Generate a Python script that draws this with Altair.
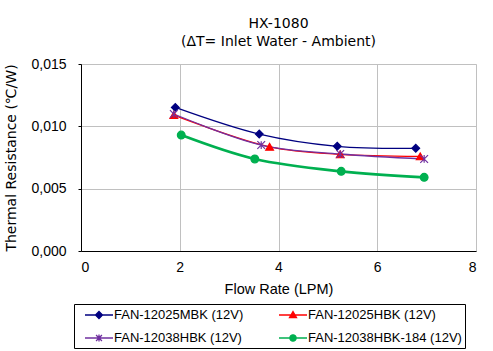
import altair as alt
import pandas as pd

series_names = ["FAN-12025MBK (12V)", "FAN-12025HBK (12V)", "FAN-12038HBK (12V)", "FAN-12038HBK-184 (12V)"]
colors = ["#000080", "#FF0000", "#7030A0", "#00B050"]
line_widths = [1.3, 1.3, 1.3, 2.8]

flow_mbk = [1.91, 3.61, 5.19, 6.78]
res_mbk = [0.01152, 0.00938, 0.00840, 0.00824]
flow_hbk = [1.88, 3.82, 5.25, 6.87]
res_hbk = [0.01090, 0.00836, 0.00775, 0.00759]
flow_38 = [1.88, 3.65, 5.25, 6.95]
res_38 = [0.01099, 0.00850, 0.00778, 0.00738]
flow_184 = [2.03, 3.52, 5.27, 6.95]
res_184 = [0.00930, 0.00738, 0.00639, 0.00591]

rows = []
for name, xs, ys in zip(series_names,
                        [flow_mbk, flow_hbk, flow_38, flow_184],
                        [res_mbk, res_hbk, res_38, res_184]):
    for i, (x, y) in enumerate(zip(xs, ys)):
        rows.append({"series": name, "flow": x, "res": y, "order": i})
df = pd.DataFrame(rows)

# plot marker shapes
marker_paths = [
    "diamond",
    "triangle-up",
    "M-1,-1L1,1M-1,1L1,-1M0,-1L0,1",
    "circle",
]
# legend symbols: line segment + marker (x spans -2..2)
legend_paths = [
    "M-2,0L2,0M0,-0.5L0.5,0L0,0.5L-0.5,0Z",
    "M-2,0L2,0M0,-0.5L0.5,0.38L-0.5,0.38Z",
    "M-2,0L2,0M-0.42,-0.42L0.42,0.42M-0.42,0.42L0.42,-0.42M0,-0.5L0,0.5",
    "M-2,0L2,0M-0.45,0A0.45,0.45,0,1,0,0.45,0A0.45,0.45,0,1,0,-0.45,0Z",
]
# legend is filled column by column, so order entries to read row by row
legend_order = [series_names[0], series_names[2], series_names[1], series_names[3]]

font = "Liberation Sans"
tfont = "DejaVu Sans"

x_enc = alt.X("flow:Q", title="Flow Rate (LPM)",
              scale=alt.Scale(domain=[0, 8], nice=False),
              axis=alt.Axis(values=[0, 2, 4, 6, 8], ticks=False, labelPadding=9,
                            titlePadding=8, gridColor="#C0C0C0", domainColor="black",
                            labelFontSize=14, titleFontSize=14.5, titleFontWeight="normal"))
y_enc = alt.Y("res:Q", title="Thermal Resistance (℃/W)",
              scale=alt.Scale(domain=[0, 0.015], nice=False),
              axis=alt.Axis(values=[0, 0.005, 0.01, 0.015],
                            labelExpr="replace(format(datum.value, '.3f'), '.', ',')",
                            tickSize=3, tickColor="black", labelPadding=12, titlePadding=12,
                            gridColor="#C0C0C0", domainColor="black", titleFont=tfont,
                            labelFontSize=14, titleFontSize=14, titleFontWeight="normal"))

legend_colors = [colors[series_names.index(n)] for n in legend_order]
legend_widths = [line_widths[series_names.index(n)] for n in legend_order]
legend_shapes = [legend_paths[series_names.index(n)] for n in legend_order]
color_scale = alt.Scale(domain=legend_order, range=legend_colors)
width_scale = alt.Scale(domain=legend_order, range=legend_widths)
shape_scale = alt.Scale(domain=legend_order, range=legend_shapes)


def make_legend():
    return alt.Legend(
        title=None, orient="none", legendX=-7, legendY=240,
        columns=2, columnPadding=27, rowPadding=8,
        strokeColor="black", fillColor="white", padding=3,
        labelFontSize=13, labelFont=font, labelOffset=7, symbolOffset=14,
        symbolSize=196, symbolOpacity=1)


layers = []
for name, col, lw in zip(series_names, colors, line_widths):
    layers.append(
        alt.Chart(df).transform_filter(alt.datum.series == name)
        .mark_line(interpolate="catmull-rom", stroke=col, strokeWidth=lw)
        .encode(x=x_enc, y=y_enc, order="order:Q")
    )
for name, col, shp in zip(series_names, colors, marker_paths):
    layers.append(
        alt.Chart(df).transform_filter(alt.datum.series == name)
        .mark_point(filled=True, size=60, strokeWidth=1.2, opacity=1,
                    shape=shp, fill=col, stroke=col)
        .encode(x="flow:Q", y="res:Q")
    )

legend_layer = alt.Chart(df).transform_filter("false").mark_point().encode(
    x="flow:Q", y="res:Q",
    fill=alt.Fill("series:N", scale=color_scale, sort=legend_order, legend=make_legend()),
    stroke=alt.Stroke("series:N", scale=color_scale, sort=legend_order, legend=make_legend()),
    strokeWidth=alt.StrokeWidth("series:N", scale=width_scale, sort=legend_order, legend=make_legend()),
    shape=alt.Shape("series:N", scale=shape_scale, sort=legend_order, legend=make_legend()),
)

chart = alt.layer(*layers, legend_layer).properties(
    width=395, height=187,
    title=alt.Title(["HX-1080", "(ΔT= Inlet Water - Ambient)"], fontSize=14, fontWeight="normal",
                    font=tfont, anchor="middle", frame="group", offset=8, lineHeight=18),
    padding={"left": 4, "top": 17, "right": 8, "bottom": 2},
).configure_view(stroke="#808080").configure_axis(
    labelFont=font, titleFont=font, labelColor="black", titleColor="black"
).configure(background="white")

chart.save("out.html", embed_options={"renderer": "svg", "actions": False})
